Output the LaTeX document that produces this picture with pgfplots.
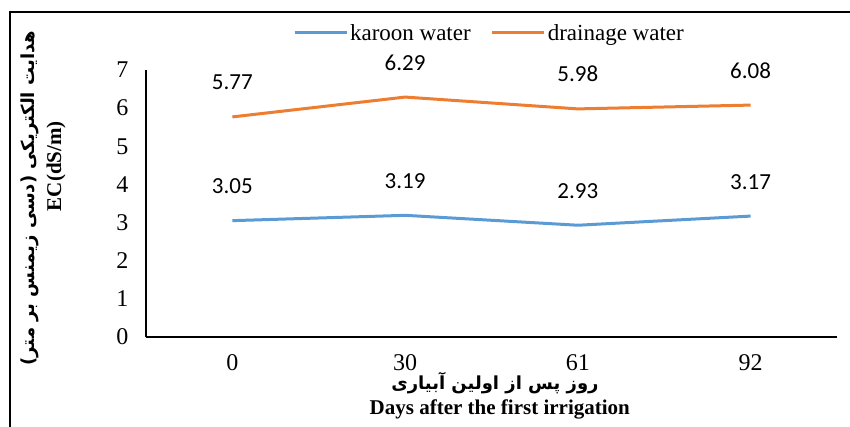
\documentclass[border=0pt]{standalone}
\usepackage{fontspec}
\setmainfont{Liberation Serif}
\newfontfamily\calibri{Carlito}
\newfontfamily\fa[Script=Arabic]{DejaVu Sans}
\TeXXeTstate=1
\usepackage{pgfplots}
\pgfplotsset{compat=1.18}
\definecolor{kblue}{HTML}{5B9BD5}
\definecolor{dorange}{HTML}{ED7D31}
\begin{document}
\begin{tikzpicture}
\useasboundingbox (0,0) rectangle (850pt,427pt);
\begin{axis}[
  at={(146pt,90pt)}, anchor=south west,
  scale only axis,
  width=691pt, height=267pt,
  xmin=-0.5, xmax=3.5,
  ymin=0, ymax=7,
  xtick={0,1,2,3},
  xticklabels={0,30,61,92},
  ytick={0,1,2,3,4,5,6,7},
  axis x line*=bottom,
  axis y line*=left,
  axis line style={line width=1.4pt, black},
  major tick length=0pt,
  tick label style={font=\fontsize{24}{28}\selectfont},
  /pgf/number format/assume math mode=true,
  xticklabel style={yshift=-14pt},
  yticklabel style={xshift=-14pt},
  legend style={at={(0.497,1.139)}, anchor=center, legend columns=2, draw=none,
    font=\fontsize{23}{26}\selectfont,
    /tikz/every even column/.append style={column sep=18pt}},
  legend image post style={line width=3pt},
  legend image code/.code={\draw[#1] (0pt,0pt) -- (52pt,0pt);},
  nodes near coords,
  nodes near coords style={font=\calibri\fontsize{23}{25}\selectfont, black,
    anchor=base, inner sep=0pt, yshift=27pt,
    /pgf/number format/.cd, fixed, precision=2, zerofill},
  clip=false,
]
\addplot[kblue, line width=3pt, mark=none] coordinates {(0,3.05) (1,3.19) (2,2.93) (3,3.17)};
\addplot[dorange, line width=3pt, mark=none] coordinates {(0,5.77) (1,6.29) (2,5.98) (3,6.08)};
\legend{karoon water, drainage water}
\node[rotate=90, font=\fa\bfseries\fontsize{18}{20}\selectfont] at (rel axis cs:-0.168,0.52) {\beginR هدایت الکتریکی (دسی زیمنس بر متر)\endR};
\node[rotate=90, font=\bfseries\fontsize{21}{24}\selectfont] at (rel axis cs:-0.13,0.64) {EC(dS/m)};
\node[font=\fa\bfseries\fontsize{18}{20}\selectfont] at (rel axis cs:0.505,-0.172) {\beginR روز پس از اولین آبیاری\endR};
\node[font=\bfseries\fontsize{21}{24}\selectfont] at (rel axis cs:0.512,-0.273) {Days after the first irrigation};
\end{axis}
\draw[line width=2pt] (10pt,0pt) -- (10pt,415pt) -- (850pt,415pt);
\end{tikzpicture}
\end{document}
